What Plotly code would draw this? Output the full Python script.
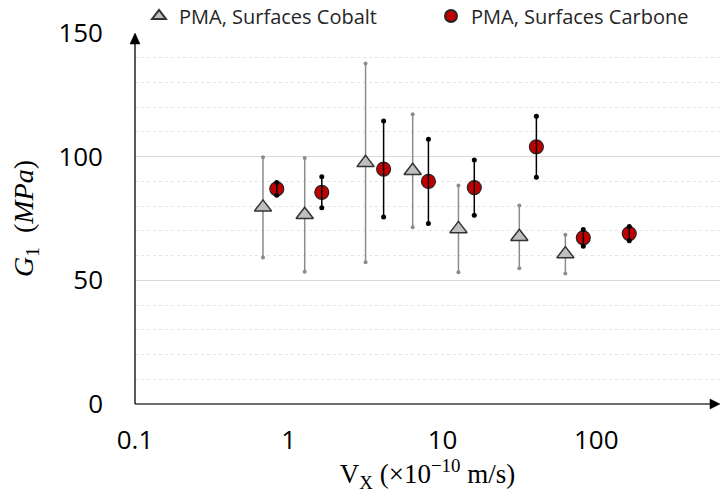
import plotly.graph_objects as go

# ---- data ----
cobalt_x = [0.68, 1.27, 3.16, 6.4, 12.7, 31.6, 63.0]
cobalt_y = [79.5, 76.5, 97.5, 94.3, 70.8, 67.6, 60.6]
cobalt_err = [20.3, 23.0, 40.2, 22.8, 17.5, 12.7, 7.8]

carbone_x = [0.836, 1.64, 4.14, 8.1, 16.1, 40.8, 82.4, 164.0]
carbone_y = [87.0, 85.6, 95.0, 90.0, 87.5, 104.0, 67.2, 68.9]
carbone_err = [2.6, 6.3, 19.4, 17.0, 11.2, 12.3, 3.4, 2.9]

legend_names = ["PMA, Surfaces Cobalt", "PMA, Surfaces Carbone"]
x_ticks = [0.1, 1, 10, 100]
x_ticktext = ["0.1", "1", "10", "100"]
y_ticks = [0, 50, 100, 150]

fig = go.Figure()

# Cobalt series (triangles, grey error bars under markers)
fig.add_trace(go.Scatter(
    x=cobalt_x, y=cobalt_y, mode="markers", name=legend_names[0], legend="legend",
    marker=dict(symbol="triangle-up", size=15, color="#BFBFBF",
                line=dict(color="#333333", width=1.5)),
    error_y=dict(type="data", array=cobalt_err, visible=True,
                 color="#8C8C8C", thickness=1.5, width=0),
))
# end dots of cobalt error bars
fig.add_trace(go.Scatter(
    x=cobalt_x + cobalt_x,
    y=[y + e for y, e in zip(cobalt_y, cobalt_err)] + [y - e for y, e in zip(cobalt_y, cobalt_err)],
    mode="markers", showlegend=False, hoverinfo="skip",
    marker=dict(symbol="circle", size=4, color="#8C8C8C"),
))

# Carbone series (red circles)
fig.add_trace(go.Scatter(
    x=carbone_x, y=carbone_y, mode="markers", name=legend_names[1], legend="legend2",
    marker=dict(symbol="circle", size=14, color="#C00000",
                line=dict(color="#262626", width=1.2)),
))
# error bars drawn on top of the circles
fig.add_trace(go.Scatter(
    x=carbone_x, y=carbone_y, mode="markers", showlegend=False, hoverinfo="skip",
    marker=dict(size=1, color="rgba(0,0,0,0)"),
    error_y=dict(type="data", array=carbone_err, visible=True,
                 color="#000000", thickness=1.5, width=0),
))
fig.add_trace(go.Scatter(
    x=carbone_x + carbone_x,
    y=[y + e for y, e in zip(carbone_y, carbone_err)] + [y - e for y, e in zip(carbone_y, carbone_err)],
    mode="markers", showlegend=False, hoverinfo="skip",
    marker=dict(symbol="circle", size=5, color="#000000"),
))

tick_font = dict(family="Open Sans", size=26, color="#000000")
legend_font = dict(family="Open Sans", size=20, color="#262626")

fig.update_layout(
    width=723, height=493,
    margin=dict(l=135, r=3, t=33, b=89, autoexpand=False),
    paper_bgcolor="white", plot_bgcolor="white",
    showlegend=True,
    legend=dict(orientation="h", x=(139 - 135) / 585, xanchor="left",
                y=1 + 17 / 371, yanchor="middle", font=legend_font,
                bgcolor="rgba(0,0,0,0)", itemsizing="constant"),
    legend2=dict(orientation="h", x=(431 - 135) / 585, xanchor="left",
                 y=1 + 17 / 371, yanchor="middle", font=legend_font,
                 bgcolor="rgba(0,0,0,0)", itemsizing="constant"),
    xaxis=dict(type="log", range=[-1, 2.805], tickvals=x_ticks, ticktext=x_ticktext,
               showgrid=False, zeroline=False, showline=False, ticks="",
               tickfont=tick_font, ticklabelstandoff=18,
               title=dict(text="V<sub>X</sub> (×10<sup>−10</sup>&nbsp;m/s)",
                          font=dict(family="Liberation Serif", size=27, color="#000000"),
                          standoff=9)),
    yaxis=dict(range=[0, 150], tickvals=y_ticks, showgrid=True, gridcolor="#D9D9D9",
               gridwidth=1, zeroline=False, showline=False, ticks="",
               tickfont=tick_font, ticklabelstandoff=31,
               minor=dict(dtick=10, showgrid=True, gridcolor="#E4E4E4", griddash="dot",
                          gridwidth=1),
               title=dict(text="<i>G</i><sub>1</sub>&nbsp;&nbsp;(<i>MPa</i>)",
                          font=dict(family="Liberation Serif", size=28, color="#000000"),
                          standoff=16)),
)

# axis lines with arrow heads (shapes)
fig.add_shape(type="line", xref="paper", yref="paper", x0=0, x1=0.99, y0=0, y1=0,
              line=dict(color="#6E6E6E", width=2))
fig.add_shape(type="path", xref="paper", yref="paper", xsizemode="pixel", ysizemode="pixel",
              xanchor=1, yanchor=0, path="M0,0 L-10,5 L-10,-5 Z",
              fillcolor="#000000", line=dict(color="#000000", width=0.5))
fig.add_shape(type="line", xref="paper", yref="paper", x0=0, x1=0, y0=0, y1=0.98,
              line=dict(color="#000000", width=1.3))
fig.add_shape(type="path", xref="paper", yref="paper", xsizemode="pixel", ysizemode="pixel",
              xanchor=0, yanchor=1, path="M0,0 L-5,-11 L5,-11 Z",
              fillcolor="#000000", line=dict(color="#000000", width=0.5))

fig.write_html("out.html", config={"displayModeBar": False},
               post_script="document.body.style.margin='0';")
